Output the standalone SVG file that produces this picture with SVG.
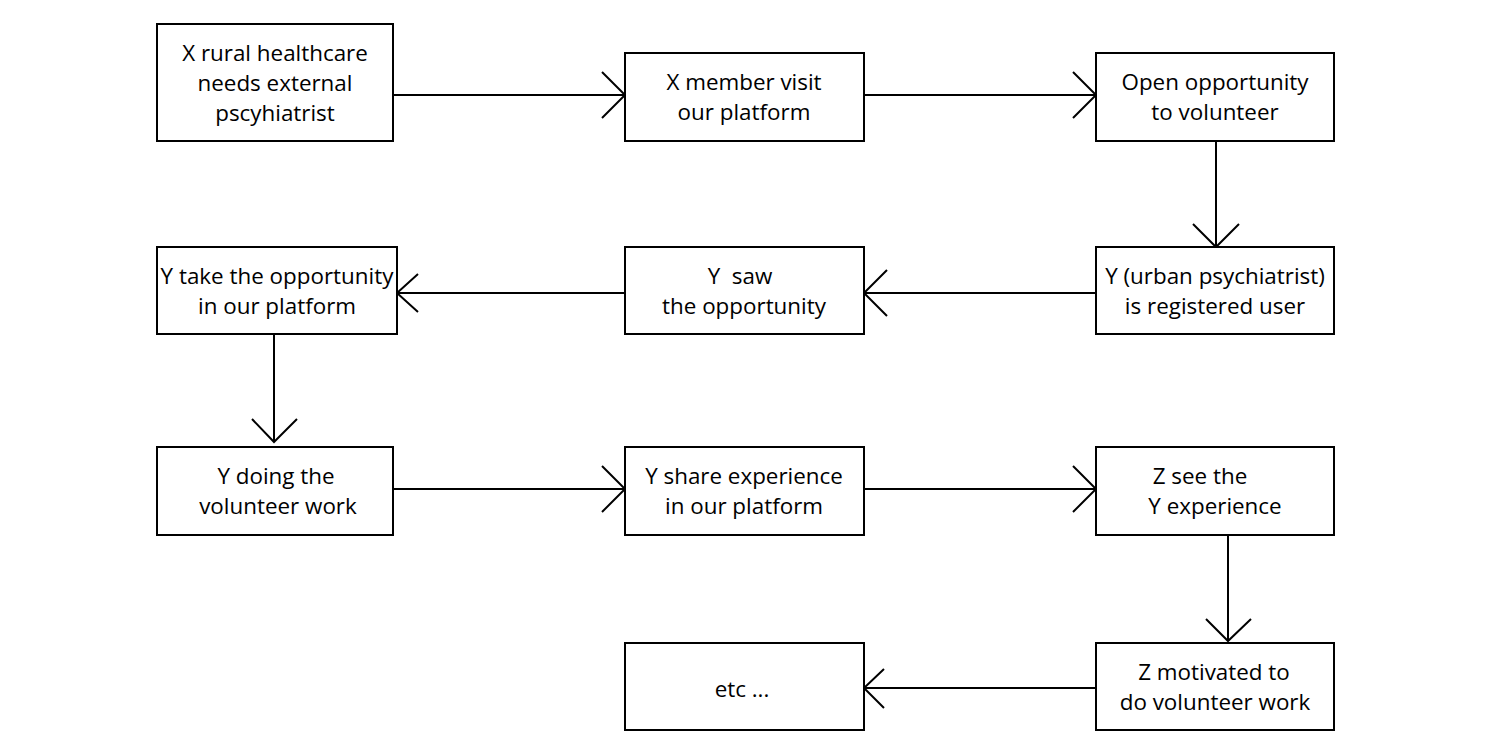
<svg xmlns="http://www.w3.org/2000/svg" width="1487" height="753" viewBox="0 0 1487 753">
<style>
.box{fill:#fff;stroke:#000;stroke-width:2}
.t{font-family:"Open Sans","Noto Sans",sans-serif;font-size:22.4px;fill:#000;text-anchor:middle}
.c{fill:none;stroke:#000;stroke-width:2}
</style>
<rect width="1487" height="753" fill="#fff"/>
<g id="connectors" class="c">
<path d="M393 95H625M602 72L625 95L602 118"/>
<path d="M864 95H1096M1073 72L1096 95L1073 118"/>
<path d="M1216 141V247M1193 224L1216 247L1239 224"/>
<path d="M1096 293H864M887 270L864 293L887 316"/>
<path d="M628 293H397M418 274L397 293L418 312"/>
<path d="M274 334V442M252 419L274 442L297 419"/>
<path d="M393 489H625M602 466L625 489L602 512"/>
<path d="M864 489H1096M1073 466L1096 489L1073 512"/>
<path d="M1228 535V641M1206 619L1228 641L1251 619"/>
<path d="M1096 688H864M884 669L864 688L884 708"/>
</g>
<g id="n1"><rect class="box" x="157" y="24" width="236" height="117"/>
<text class="t" x="275" y="61">X rural healthcare</text><text class="t" x="275" y="91">needs external</text><text class="t" x="275" y="121">pscyhiatrist</text></g>
<g id="n2"><rect class="box" x="625" y="53" width="239" height="88"/>
<text class="t" x="744" y="90">X member visit</text><text class="t" x="744" y="120">our platform</text></g>
<g id="n3"><rect class="box" x="1096" y="53" width="238" height="88"/>
<text class="t" x="1215" y="90">Open opportunity</text><text class="t" x="1215" y="120">to volunteer</text></g>
<g id="n4"><rect class="box" x="1096" y="247" width="238" height="87"/>
<text class="t" x="1215" y="284">Y (urban psychiatrist)</text><text class="t" x="1215" y="314">is registered user</text></g>
<g id="n5"><rect class="box" x="625" y="247" width="239" height="87"/>
<text class="t" x="740" y="284" xml:space="preserve">Y  saw</text><text class="t" x="744" y="314">the opportunity</text></g>
<g id="n6"><rect class="box" x="157" y="247" width="240" height="87"/>
<text class="t" x="277" y="284">Y take the opportunity</text><text class="t" x="277" y="314">in our platform</text></g>
<g id="n7"><rect class="box" x="157" y="447" width="236" height="88"/>
<text class="t" x="276" y="484">Y doing the</text><text class="t" x="278" y="514">volunteer work</text></g>
<g id="n8"><rect class="box" x="625" y="447" width="239" height="88"/>
<text class="t" x="744" y="484">Y share experience</text><text class="t" x="744" y="514">in our platform</text></g>
<g id="n9"><rect class="box" x="1096" y="447" width="238" height="88"/>
<text class="t" x="1200" y="484">Z see the</text><text class="t" x="1215" y="514">Y experience</text></g>
<g id="n10"><rect class="box" x="1096" y="643" width="238" height="87"/>
<text class="t" x="1214" y="680">Z motivated to</text><text class="t" x="1215" y="710">do volunteer work</text></g>
<g id="n11"><rect class="box" x="625" y="643" width="239" height="87"/>
<text class="t" x="742" y="697">etc ...</text></g>
</svg>
